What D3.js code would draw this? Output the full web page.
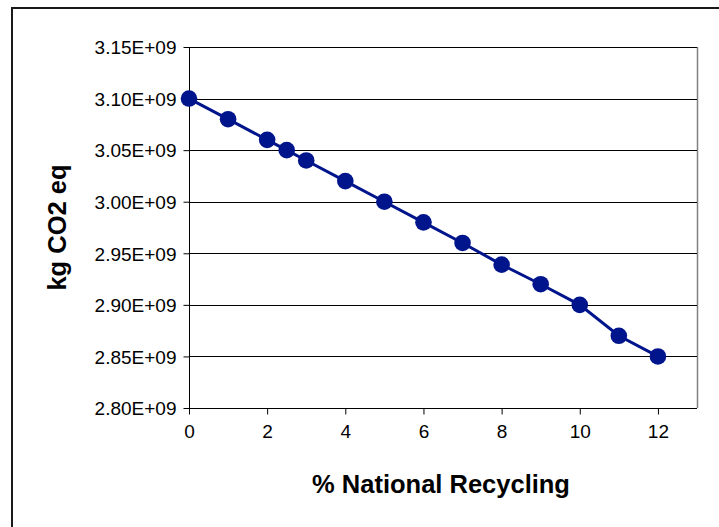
<!DOCTYPE html>
<html>
<head>
<meta charset="utf-8">
<script src="https://cdn.jsdelivr.net/npm/d3@7"></script>
<style>
  html, body { margin: 0; padding: 0; background: #fff; }
  svg { display: block; }
</style>
</head>
<body>
<svg id="chart" width="719" height="527"></svg>
<script>
// Data
const recyclingPct = [0, 1, 2, 2.5, 3, 4, 5, 6, 7, 8, 9, 10, 11, 12];
const kgCO2eq = [3.10e9, 3.08e9, 3.06e9, 3.05e9, 3.04e9, 3.02e9, 3.00e9, 2.98e9, 2.96e9, 2.939e9, 2.92e9, 2.90e9, 2.87e9, 2.85e9];
const xTicks = [0, 2, 4, 6, 8, 10, 12];
const yTicks = [2.80e9, 2.85e9, 2.90e9, 2.95e9, 3.00e9, 3.05e9, 3.10e9, 3.15e9];
const xLabel = "% National Recycling";
const yLabel = "kg CO2 eq";

const svg = d3.select("#chart");
const font = "'Liberation Sans', Arial, sans-serif";
const plot = { left: 189, right: 697, top: 47, bottom: 408 };
const navy = "#00148c";

// outer frame (extends beyond right/bottom of the picture)
svg.append("rect")
  .attr("x", 12).attr("y", 8)
  .attr("width", 740).attr("height", 560)
  .attr("fill", "#fff")
  .attr("stroke", "#1a1a1a").attr("stroke-width", 2);

const x = d3.scaleLinear().domain([0, 13]).range([plot.left, plot.right]);
const y = d3.scaleLinear().domain([2.80e9, 3.15e9]).range([plot.bottom, plot.top]);

// plot area right border (gray)
svg.append("line")
  .attr("x1", plot.right + 0.5).attr("x2", plot.right + 0.5)
  .attr("y1", plot.top).attr("y2", plot.bottom)
  .attr("stroke", "#808080").attr("stroke-width", 1.5);

// gridlines
svg.append("g").selectAll("line").data(yTicks).join("line")
  .attr("x1", plot.left).attr("x2", plot.right)
  .attr("y1", d => Math.round(y(d)) + 0.5).attr("y2", d => Math.round(y(d)) + 0.5)
  .attr("stroke", "#000").attr("stroke-width", 1);

// y axis
const yAxis = d3.axisLeft(y).tickValues(yTicks).tickSize(6).tickPadding(7)
  .tickFormat(d => (d / 1e9).toFixed(2) + "E+09");
const gy = svg.append("g").attr("transform", `translate(${plot.left + 0.5},0)`).call(yAxis);
gy.select(".domain").attr("stroke", "#000").attr("d", `M0,${plot.top}V${plot.bottom}`);
gy.selectAll(".tick line").attr("stroke", "#000");
gy.selectAll(".tick text").attr("font-family", font).attr("font-size", 19).attr("fill", "#000").attr("dy", "0.36em");

// x axis
const xAxis = d3.axisBottom(x).tickValues(xTicks).tickSize(6).tickPadding(10).tickFormat(d3.format("d"));
const gx = svg.append("g").attr("transform", `translate(0,${plot.bottom + 0.5})`).call(xAxis);
gx.select(".domain").attr("stroke", "#000").attr("d", `M${plot.left},0H${plot.right}`);
gx.selectAll(".tick line").attr("stroke", "#000");
gx.selectAll(".tick text").attr("font-family", font).attr("font-size", 19).attr("fill", "#000");

// axis titles
svg.append("text")
  .attr("x", (plot.left + plot.right) / 2 - 2).attr("y", 493)
  .attr("text-anchor", "middle")
  .attr("font-family", font).attr("font-weight", "bold").attr("font-size", 25.5)
  .text(xLabel);
svg.append("text")
  .attr("transform", `translate(66,${(plot.top + plot.bottom) / 2}) rotate(-90)`)
  .attr("text-anchor", "middle")
  .attr("font-family", font).attr("font-weight", "bold").attr("font-size", 25.5)
  .text(yLabel);

// series
const pts = recyclingPct.map((d, i) => [d, kgCO2eq[i]]);
svg.append("path")
  .datum(pts)
  .attr("fill", "none").attr("stroke", navy).attr("stroke-width", 3)
  .attr("d", d3.line().x(d => x(d[0])).y(d => y(d[1])));
svg.append("g").selectAll("circle").data(pts).join("circle")
  .attr("cx", d => x(d[0])).attr("cy", d => y(d[1]))
  .attr("r", 8.3).attr("fill", navy);
</script>
</body>
</html>
